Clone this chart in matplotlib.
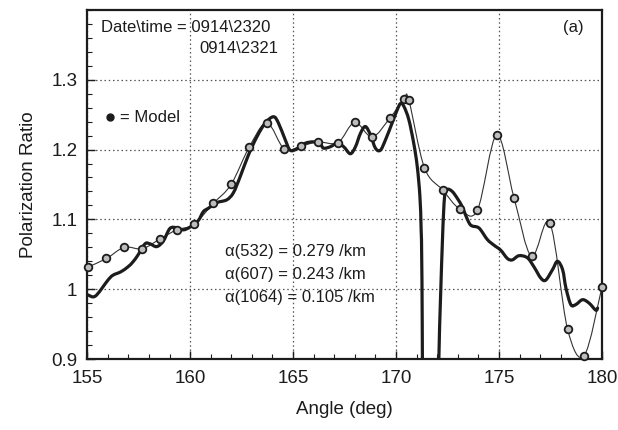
import matplotlib
matplotlib.use("Agg")
import matplotlib.pyplot as plt
from matplotlib.path import Path
from matplotlib.patches import PathPatch
from matplotlib.ticker import FixedLocator, MultipleLocator

plt.rcParams['font.family'] = ['Liberation Sans', 'DejaVu Sans']

# Measured polarization ratio (0914\2320 - 0914\2321)
meas_angle = [155.03, 155.28, 155.47, 155.76, 156.01, 156.25, 156.64, 156.98, 157.22, 157.47,
              157.81, 158.05, 158.38, 158.70, 159.02, 159.35, 159.67, 160.00, 160.39, 160.64,
              160.89, 161.30, 161.78, 162.10, 162.43, 162.83, 163.24, 163.65, 164.05, 164.29,
              164.62, 164.86, 165.19, 165.59, 166.00, 166.32, 166.48, 166.81, 167.14, 167.46,
              167.78, 168.03, 168.27, 168.51, 168.76, 169.00, 169.24, 169.49, 169.81, 170.06,
              170.22, 170.38, 170.62, 170.86, 171.03, 171.16, 171.22, 171.26, 171.35, 171.70,
              172.00, 172.08, 172.25, 172.36, 172.49, 172.73, 172.98, 173.22, 173.38, 173.62,
              173.95, 174.11, 174.44, 174.76, 175.08, 175.41, 175.65, 175.97, 176.38, 176.70,
              177.03, 177.27, 177.60, 177.84, 178.09, 178.25, 178.49, 178.73, 179.06, 179.38,
              179.70, 179.79]
meas_ratio = [0.992, 0.989, 0.992, 1.003, 1.013, 1.020, 1.025, 1.032, 1.039, 1.049,
              1.065, 1.065, 1.061, 1.069, 1.087, 1.088, 1.085, 1.089, 1.098, 1.111,
              1.116, 1.124, 1.128, 1.138, 1.161, 1.192, 1.218, 1.238, 1.247, 1.238,
              1.214, 1.199, 1.201, 1.209, 1.211, 1.208, 1.202, 1.204, 1.209, 1.204,
              1.194, 1.204, 1.223, 1.233, 1.221, 1.202, 1.199, 1.214, 1.238, 1.257,
              1.266, 1.262, 1.243, 1.209, 1.176, 1.133, 1.085, 1.013, 0.700, 0.500,
              0.700, 0.899, 1.066, 1.133, 1.143, 1.140, 1.130, 1.118, 1.106, 1.092,
              1.089, 1.085, 1.071, 1.063, 1.056, 1.044, 1.042, 1.048, 1.045, 1.032,
              1.016, 1.013, 1.028, 1.040, 1.028, 1.002, 0.978, 0.978, 0.985, 0.980,
              0.970, 0.973]

# Model values
model_angle = [155.05, 155.94, 156.80, 157.68, 158.54, 159.35, 160.19, 161.13, 161.99, 162.88,
               163.73, 164.57, 165.40, 166.20, 167.18, 167.99, 168.84, 169.70, 170.38, 170.62,
               171.38, 172.27, 173.09, 173.95, 174.89, 175.73, 176.58, 177.47, 178.33, 179.14,
               180.00]
model_ratio = [1.032, 1.044, 1.060, 1.058, 1.072, 1.085, 1.093, 1.123, 1.150, 1.204,
               1.238, 1.201, 1.205, 1.211, 1.210, 1.239, 1.218, 1.245, 1.272, 1.271,
               1.174, 1.142, 1.115, 1.113, 1.221, 1.131, 1.047, 1.095, 0.943, 0.905,
               1.003]

x_ticks = [155, 160, 165, 170, 175, 180]
y_ticks = [0.9, 1.0, 1.1, 1.2, 1.3]
y_tick_labels = ["0.9", "1", "1.1", "1.2", "1.3"]

ink = "#1c1c1c"


def smooth_path(xs, ys):
    """Cubic Bezier path passing through every point (Catmull-Rom tangents)."""
    pts = list(zip(xs, ys))
    n = len(pts)
    verts = [pts[0]]
    codes = [Path.MOVETO]
    for i in range(n - 1):
        p0 = pts[max(i - 1, 0)]
        p1 = pts[i]
        p2 = pts[i + 1]
        p3 = pts[min(i + 2, n - 1)]
        c1 = (p1[0] + (p2[0] - p0[0]) / 6.0, p1[1] + (p2[1] - p0[1]) / 6.0)
        c2 = (p2[0] - (p3[0] - p1[0]) / 6.0, p2[1] - (p3[1] - p1[1]) / 6.0)
        verts += [c1, c2, p2]
        codes += [Path.CURVE4] * 3
    return Path(verts, codes)


fig = plt.figure(figsize=(6.18, 4.30), dpi=100)
ax = fig.add_axes([0.141, 0.165, 0.833, 0.812])

# model: thin smooth curve with circle markers
ax.add_patch(PathPatch(smooth_path(model_angle, model_ratio), fill=False,
                       edgecolor="#333333", lw=0.8, zorder=3))
ax.plot(model_angle, model_ratio, linestyle="none", marker="o", ms=5.5,
        mfc="#bdbdbd", mec=ink, mew=1.3, zorder=5, clip_on=False)
# measurement: heavy smooth curve
ax.add_patch(PathPatch(smooth_path(meas_angle, meas_ratio), fill=False,
                       edgecolor=ink, lw=2.3, zorder=4, joinstyle="round",
                       capstyle="round"))

ax.set_xlim(155, 180)
ax.set_ylim(0.9, 1.4)
ax.xaxis.set_major_locator(FixedLocator(x_ticks))
ax.xaxis.set_minor_locator(MultipleLocator(1))
ax.yaxis.set_major_locator(FixedLocator(y_ticks))
ax.set_yticklabels(y_tick_labels)
ax.yaxis.set_minor_locator(MultipleLocator(0.02))

ax.tick_params(which="both", direction="in", colors=ink, labelsize=13.5, top=False, right=False)
ax.tick_params(which="major", length=6, width=1.0)
ax.tick_params(which="minor", length=3.5, width=0.8)
ax.tick_params(axis="x", pad=8)
ax.tick_params(axis="y", pad=7)

ax.grid(True, which="major", linestyle=(0, (1.2, 2.2)), color="#555555", lw=0.9)
for s in ax.spines.values():
    s.set_linewidth(1.6)
    s.set_color(ink)

ax.set_xlabel("Angle (deg)", fontsize=13.5, color=ink, labelpad=10)
ax.set_ylabel("Polarization Ratio", fontsize=13.5, color=ink, labelpad=10)

tkw = dict(fontsize=12, color=ink, transform=ax.transData)
ax.text(155.65, 1.3745, "Date\\time = 0914\\2320", va="center", ha="left", **tkw)
ax.text(160.45, 1.3445, "0914\\2321", va="center", ha="left", **tkw)
ax.text(179.1, 1.3745, "(a)", va="center", ha="right", **tkw)
ax.plot([156.1], [1.2465], marker="o", ms=5, color=ink, clip_on=False)
ax.text(156.6, 1.2465, "= Model", va="center", ha="left", **tkw)

akw = dict(fontsize=12, color=ink, va="center", ha="left", transform=ax.transData)
ax.text(161.7, 1.054, "α(532) = 0.279 /km", **akw)
ax.text(161.7, 1.021, "α(607) = 0.243 /km", **akw)
ax.text(161.7, 0.988, "α(1064) = 0.105 /km", **akw)

fig.savefig("out.png", dpi=100)
